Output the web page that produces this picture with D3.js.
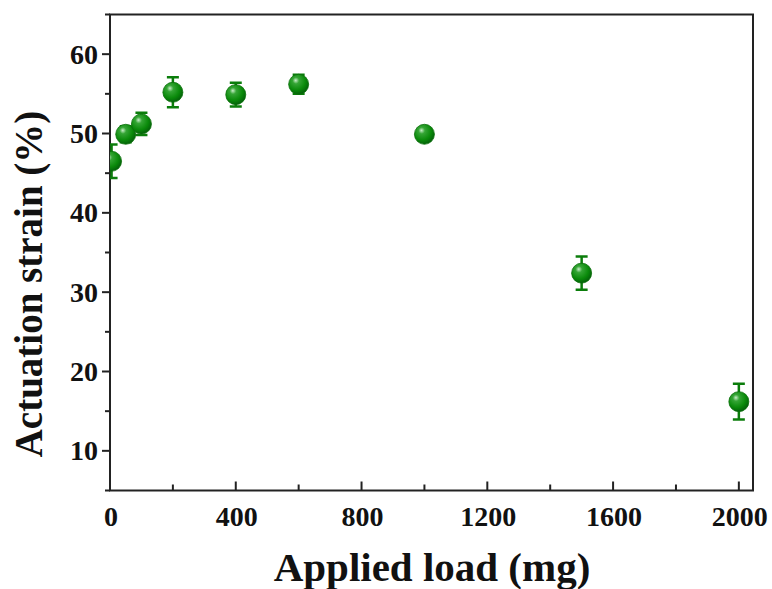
<!DOCTYPE html>
<html><head><meta charset="utf-8">
<script src="https://cdn.jsdelivr.net/npm/d3@7/dist/d3.min.js"></script>
<style>body{margin:0;background:#fff}svg{display:block}</style>
</head><body>
<svg id="c" width="772" height="589"></svg>
<script>
const loads  = [5, 50, 100, 200, 400, 600, 1000, 1500, 2000];
const strain = [46.5, 49.9, 51.2, 55.2, 54.9, 56.2, 49.9, 32.4, 16.2];
const errs   = [2.1, 1.0, 1.4, 1.9, 1.5, 1.2, 0.5, 2.1, 2.25];
const xTicks = [0, 400, 800, 1200, 1600, 2000];
const yTicks = [10, 20, 30, 40, 50, 60];

const svg = d3.select("#c");
const L = 110, R = 753, T = 14.5, B = 490.5;
const x = d3.scaleLinear().domain([0, 2045]).range([L, R]);
const y = d3.scaleLinear().domain([5, 65]).range([B, T]);
const font = "'Liberation Serif','Times New Roman',serif";

const defs = svg.append("defs");
const g = defs.append("radialGradient").attr("id","ball").attr("cx","0.4").attr("cy","0.35").attr("r","0.65").attr("fx","0.35").attr("fy","0.3");
g.append("stop").attr("offset","0").attr("stop-color","#c8eec8");
g.append("stop").attr("offset","0.25").attr("stop-color","#35a535");
g.append("stop").attr("offset","0.7").attr("stop-color","#0a8a0a");
g.append("stop").attr("offset","1").attr("stop-color","#04620a");
defs.append("clipPath").attr("id","clip").append("rect").attr("x",L).attr("y",T).attr("width",R-L).attr("height",B-T);

// y axis ticks (outward)
const yMinor = d3.range(5, 66, 5).filter(v => v % 10 !== 0);
const axY = svg.append("g").attr("stroke","#222").attr("stroke-width",2);
axY.selectAll("line.maj").data(yTicks).join("line").attr("x1",L-8).attr("x2",L).attr("y1",d=>y(d)).attr("y2",d=>y(d));
axY.selectAll("line.min").data(yMinor).join("line").attr("class","min").attr("x1",L-5).attr("x2",L).attr("y1",d=>y(d)).attr("y2",d=>y(d));
svg.append("g").selectAll("text").data(yTicks).join("text")
  .attr("x", L-12).attr("y", d=>y(d)+9.5).attr("text-anchor","end")
  .attr("font-family",font).attr("font-weight","bold").attr("font-size",28).attr("fill","#111")
  .text(d=>d);

// x axis ticks (inward)
const xMinor = d3.range(200, 2001, 400);
const axX = svg.append("g").attr("stroke","#222").attr("stroke-width",2);
axX.selectAll("line.maj").data(xTicks.slice(1)).join("line").attr("class","maj").attr("y1",B-9).attr("y2",B).attr("x1",d=>x(d)).attr("x2",d=>x(d));
axX.selectAll("line.min").data(xMinor).join("line").attr("class","min").attr("y1",B-6).attr("y2",B).attr("x1",d=>x(d)).attr("x2",d=>x(d));
svg.append("g").selectAll("text").data(xTicks).join("text")
  .attr("x", d=>x(d)+1).attr("y", 526).attr("text-anchor","middle")
  .attr("font-family",font).attr("font-weight","bold").attr("font-size",28).attr("fill","#111")
  .text(d=>d);

// frame
svg.append("rect").attr("x",L).attr("y",T).attr("width",R-L).attr("height",B-T)
  .attr("fill","none").attr("stroke","#222").attr("stroke-width",2);

// data
const data = loads.map((v,i)=>({x:v, y:strain[i], e:errs[i]}));
const pts = svg.append("g").attr("clip-path","url(#clip)");
const eb = pts.append("g").attr("stroke","#0b7d0b").attr("stroke-width",2.5);
eb.selectAll("line.v").data(data).join("line").attr("x1",d=>x(d.x)).attr("x2",d=>x(d.x)).attr("y1",d=>y(d.y-d.e)).attr("y2",d=>y(d.y+d.e));
eb.selectAll("line.t").data(data).join("line").attr("class","t").attr("x1",d=>x(d.x)-6).attr("x2",d=>x(d.x)+6).attr("y1",d=>y(d.y+d.e)).attr("y2",d=>y(d.y+d.e));
eb.selectAll("line.b").data(data).join("line").attr("class","b").attr("x1",d=>x(d.x)-6).attr("x2",d=>x(d.x)+6).attr("y1",d=>y(d.y-d.e)).attr("y2",d=>y(d.y-d.e));
pts.selectAll("circle").data(data).join("circle")
  .attr("cx",d=>x(d.x)).attr("cy",d=>y(d.y)).attr("r",10)
  .attr("fill","url(#ball)").attr("stroke","#0a6e0a").attr("stroke-width",0.8);

// titles
svg.append("text").attr("x", 432).attr("y", 581).attr("text-anchor","middle")
  .attr("font-family",font).attr("font-weight","bold").attr("font-size",41).attr("fill","#111")
  .text("Applied load (mg)");
svg.append("text").attr("transform","translate(42,284) rotate(-90)").attr("text-anchor","middle")
  .attr("font-family",font).attr("font-weight","bold").attr("font-size",39).attr("fill","#111")
  .text("Actuation strain (%)");
</script>
</body></html>
